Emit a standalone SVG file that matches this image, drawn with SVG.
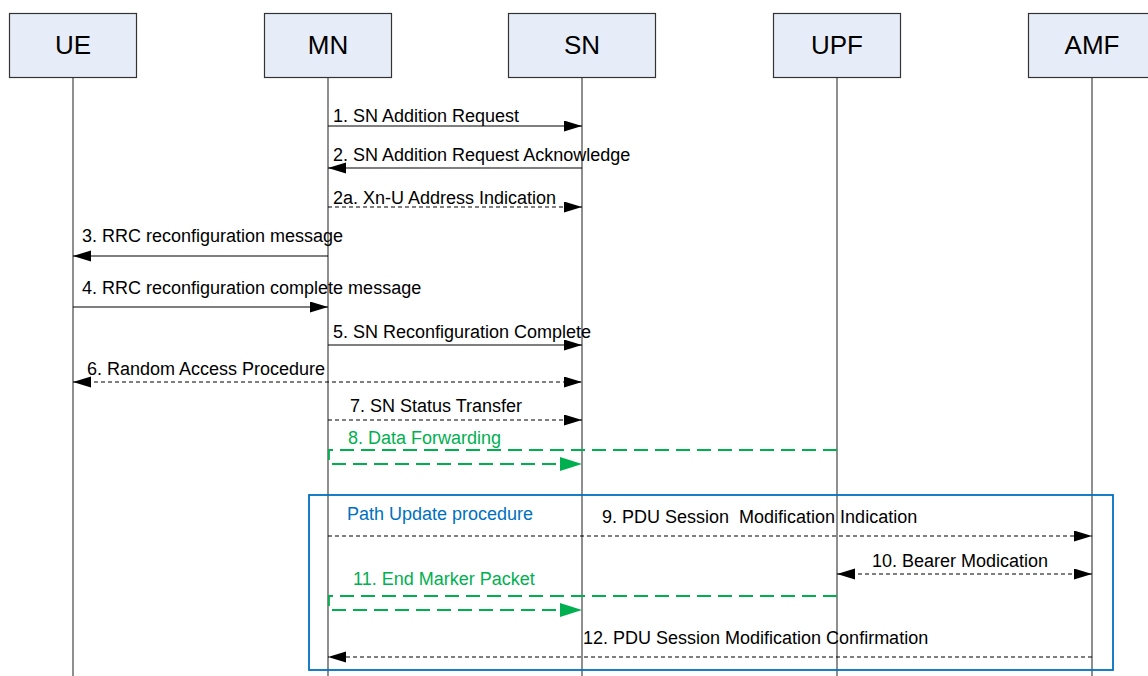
<svg xmlns="http://www.w3.org/2000/svg" width="1148" height="676" viewBox="0 0 1148 676">
<style>
.box{fill:#E7EDF8;stroke:#333;stroke-width:1.2}
.hdr{font-family:"Liberation Sans",Arial,sans-serif;font-size:26px;fill:#000;text-anchor:middle}
.life{stroke:#444;stroke-width:1.2;fill:none}
.lbl{font-family:"Liberation Sans",Arial,sans-serif;font-size:18px;fill:#000}
.glbl{font-family:"Liberation Sans",Arial,sans-serif;font-size:18px;fill:#00B050}
.blbl{font-family:"Liberation Sans",Arial,sans-serif;font-size:18px;fill:#0070C0}
.msg{stroke:#000;stroke-width:1.2;fill:none}
.dash{stroke:#000;stroke-width:1.2;fill:none;stroke-dasharray:4 3}
.green{stroke:#00B050;stroke-width:1.8;fill:none;stroke-dasharray:14 7}
</style>
<defs>
<marker id="ah" markerUnits="userSpaceOnUse" markerWidth="19" markerHeight="12" refX="18" refY="5.5" orient="auto-start-reverse" viewBox="0 0 19 12">
<path d="M0,0 L18,5.5 L0,11 z" fill="#000"/>
</marker>
<marker id="gh" markerUnits="userSpaceOnUse" markerWidth="23" markerHeight="15" refX="22" refY="7" orient="auto" viewBox="0 0 23 15">
<path d="M0,0 L22,7 L0,14 z" fill="#00B050"/>
</marker>
</defs>

<g id="lifelines">
<line class="life" x1="73" y1="77" x2="73" y2="676"/>
<line class="life" x1="328" y1="77" x2="328" y2="676"/>
<line class="life" x1="582" y1="77" x2="582" y2="676"/>
<line class="life" x1="837" y1="77" x2="837" y2="676"/>
<line class="life" x1="1092" y1="77" x2="1092" y2="676"/>
</g>

<g id="UE"><rect class="box" x="9.5" y="13.5" width="127" height="64"/><text class="hdr" x="73" y="54">UE</text></g>
<g id="MN"><rect class="box" x="264.5" y="13.5" width="127" height="64"/><text class="hdr" x="328" y="54">MN</text></g>
<g id="SN"><rect class="box" x="508.5" y="13.5" width="147" height="64"/><text class="hdr" x="582" y="54">SN</text></g>
<g id="UPF"><rect class="box" x="773.5" y="13.5" width="127" height="64"/><text class="hdr" x="837" y="54">UPF</text></g>
<g id="AMF"><rect class="box" x="1028.5" y="13.5" width="127" height="64"/><text class="hdr" x="1092" y="54">AMF</text></g>

<g id="path-update">
<rect x="309" y="495" width="804" height="175" fill="none" stroke="#0070C0" stroke-width="1.8"/>
<text class="blbl" x="347" y="520">Path Update procedure</text>
</g>

<g id="connectors">
<line class="msg" x1="328" y1="126" x2="582" y2="126" marker-end="url(#ah)"/>
<line class="msg" x1="582" y1="168" x2="328" y2="168" marker-end="url(#ah)"/>
<line class="dash" x1="328" y1="207" x2="582" y2="207" marker-end="url(#ah)"/>
<line class="msg" x1="328" y1="256" x2="73" y2="256" marker-end="url(#ah)"/>
<line class="msg" x1="73" y1="307" x2="328" y2="307" marker-end="url(#ah)"/>
<line class="msg" x1="328" y1="345" x2="582" y2="345" marker-end="url(#ah)"/>
<line class="dash" x1="73" y1="382" x2="582" y2="382" marker-start="url(#ah)" marker-end="url(#ah)"/>
<line class="dash" x1="328" y1="420" x2="582" y2="420" marker-end="url(#ah)"/>
<polyline class="green" points="837,450 329,450 329,464 582,464" marker-end="url(#gh)"/>
<line class="dash" x1="328" y1="536" x2="1092" y2="536" marker-end="url(#ah)"/>
<line class="dash" x1="837" y1="574" x2="1092" y2="574" marker-start="url(#ah)" marker-end="url(#ah)"/>
<polyline class="green" points="837,596 329,596 329,610 582,610" marker-end="url(#gh)"/>
<line class="dash" x1="1092" y1="657" x2="328" y2="657" marker-end="url(#ah)"/>
</g>

<g id="labels">
<text class="lbl" x="333" y="122">1. SN Addition Request</text>
<text class="lbl" x="333" y="161">2. SN Addition Request Acknowledge</text>
<text class="lbl" x="333" y="204">2a. Xn-U Address Indication</text>
<text class="lbl" x="82" y="242">3. RRC reconfiguration message</text>
<text class="lbl" x="82" y="294">4. RRC reconfiguration complete message</text>
<text class="lbl" x="333" y="338">5. SN Reconfiguration Complete</text>
<text class="lbl" x="87" y="375">6. Random Access Procedure</text>
<text class="lbl" x="350" y="412">7. SN Status Transfer</text>
<text class="glbl" x="348" y="444">8. Data Forwarding</text>
<text class="lbl" x="602" y="523" xml:space="preserve">9. PDU Session  Modification Indication</text>
<text class="lbl" x="872" y="567">10. Bearer Modication</text>
<text class="glbl" x="353" y="585">11. End Marker Packet</text>
<text class="lbl" x="583" y="644">12. PDU Session Modification Confirmation</text>
</g>
</svg>
